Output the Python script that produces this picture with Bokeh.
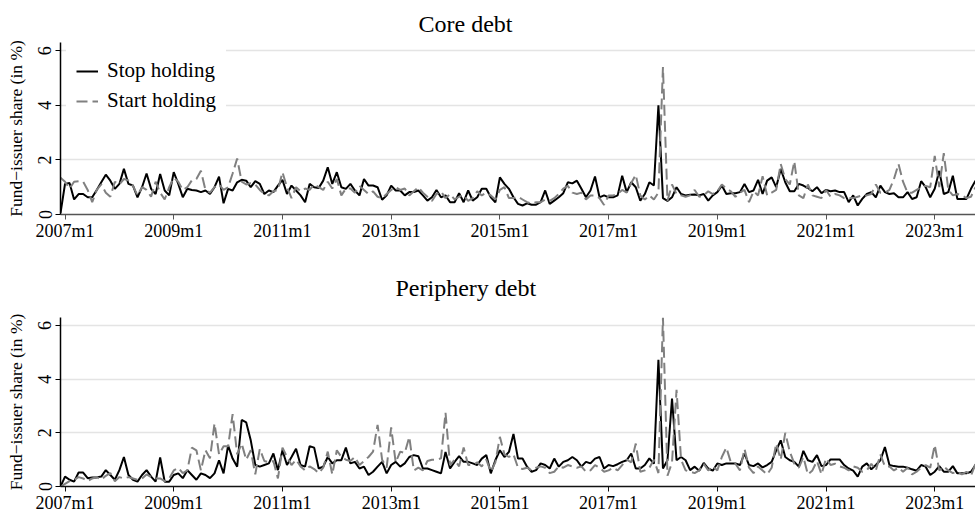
from bokeh.plotting import figure
from bokeh.layouts import column
from bokeh.models import Range1d, FixedTicker, Legend, LegendItem, ColumnDataSource
from bokeh.embed import file_html
from bokeh.resources import INLINE

# Month index 0 = 2006m12 ... 202 = 2023m10
n_months = 203

x_tick_pos = [1, 25, 49, 73, 97, 121, 145, 169, 193]
x_tick_labels = ["2007m1", "2009m1", "2011m1", "2013m1", "2015m1",
                 "2017m1", "2019m1", "2021m1", "2023m1"]
y_ticks = [0, 2, 4, 6]

core_stop = [
    0.05, 1.12, 1.15, 0.55, 0.75, 0.75, 0.63, 0.63, 0.90, 1.18,
    1.46, 1.24, 0.94, 1.12, 1.67, 1.12, 1.06, 0.63, 1.00, 1.50,
    0.94, 0.75, 1.48, 0.88, 0.70, 1.55, 1.12, 0.63, 0.94, 0.90,
    0.88, 0.82, 0.88, 0.75, 1.00, 1.39, 0.41, 0.94, 0.88, 1.18,
    1.27, 1.24, 1.00, 1.22, 1.12, 0.75, 0.88, 0.82, 1.06, 1.27,
    0.75, 1.06, 0.88, 0.70, 0.45, 1.12, 1.00, 0.97, 1.24, 1.73,
    1.12, 1.55, 1.00, 0.94, 1.12, 0.88, 0.70, 1.30, 1.06, 1.06,
    1.00, 0.54, 0.70, 1.06, 0.88, 0.88, 0.70, 0.82, 0.82, 0.88,
    0.70, 0.51, 0.63, 0.90, 0.63, 0.70, 0.45, 0.45, 0.78, 0.45,
    0.88, 0.51, 0.63, 0.94, 0.94, 0.63, 0.45, 1.36, 1.12, 0.94,
    0.63, 0.39, 0.33, 0.41, 0.36, 0.36, 0.45, 0.88, 0.39, 0.51,
    0.63, 0.78, 1.18, 1.14, 1.24, 0.94, 0.63, 0.88, 1.39, 0.63,
    0.70, 0.63, 0.63, 0.70, 1.42, 0.82, 1.18, 1.00, 0.51, 0.75,
    1.18, 1.06, 4.00, 0.60, 0.50, 0.63, 1.00, 0.75, 0.70, 0.72,
    0.73, 0.70, 0.75, 0.51, 0.70, 0.82, 1.06, 0.75, 0.78, 0.78,
    0.82, 1.12, 0.82, 0.88, 1.27, 0.75, 1.24, 1.36, 1.00, 1.67,
    1.18, 0.85, 0.85, 1.12, 1.06, 0.97, 0.85, 1.00, 0.78, 0.90,
    0.85, 0.88, 0.82, 0.82, 0.45, 0.70, 0.33, 0.57, 0.75, 0.82,
    0.63, 1.06, 0.82, 0.75, 0.78, 0.63, 0.63, 0.82, 0.57, 0.63,
    1.22, 1.00, 0.63, 0.94, 1.60, 0.75, 0.82, 1.42, 0.57, 0.57,
    0.57, 0.94, 1.24,
]

core_start = [
    1.35, 1.20, 0.95, 1.20, 1.22, 1.20, 0.90, 0.45, 0.90, 1.10,
    0.80, 0.65, 1.20, 1.10, 1.30, 1.25, 1.05, 0.70, 1.00, 0.90,
    0.65, 1.20, 0.80, 0.55, 1.00, 1.35, 1.20, 0.90, 1.00, 1.25,
    1.30, 1.60, 0.90, 0.80, 1.00, 1.10, 0.90, 1.00, 1.50, 2.05,
    1.20, 1.10, 1.15, 1.10, 0.90, 0.75, 0.70, 0.85, 0.90, 1.55,
    1.00, 0.60, 1.00, 0.85, 0.95, 0.90, 1.10, 1.00, 0.90, 1.20,
    0.95, 1.30, 0.70, 0.95, 0.95, 0.80, 1.05, 0.90, 0.75, 0.85,
    0.65, 0.60, 0.75, 0.90, 1.00, 0.90, 0.95, 0.70, 0.85, 1.00,
    0.80, 0.65, 0.50, 0.75, 0.85, 0.60, 0.75, 0.55, 0.65, 0.70,
    0.50, 0.60, 0.85, 0.70, 0.80, 0.70, 0.55, 0.90, 1.00, 0.60,
    0.60, 0.65, 0.55, 0.45, 0.40, 0.45, 0.45, 0.55, 0.50, 0.60,
    0.75, 0.95, 1.05, 0.80, 0.75, 0.80, 0.55, 0.70, 0.70, 0.60,
    0.35, 0.70, 0.70, 0.75, 0.90, 0.80, 1.15, 1.45, 0.70, 0.55,
    0.70, 0.55, 0.80, 5.40, 0.50, 1.10, 0.75, 0.70, 0.65, 0.70,
    0.90, 0.65, 0.70, 0.85, 0.75, 0.85, 1.10, 0.95, 0.85, 0.65,
    0.80, 0.90, 0.45, 0.85, 0.70, 1.40, 0.70, 0.80, 0.90, 1.85,
    1.30, 1.10, 1.95, 0.70, 0.60, 1.10, 0.70, 0.65, 0.60, 0.90,
    0.65, 0.75, 0.70, 0.60, 0.60, 0.60, 0.65, 0.70, 0.70, 0.75,
    1.10, 0.80, 0.80, 0.90, 1.30, 1.85, 1.20, 0.80, 0.80, 0.90,
    1.00, 1.05, 1.00, 2.15, 1.00, 2.25, 0.90, 0.70, 0.75, 0.70,
    0.60, 0.65, 1.00,
]

peri_stop = [
    0.00, 0.37, 0.25, 0.18, 0.52, 0.52, 0.31, 0.34, 0.34, 0.37,
    0.61, 0.43, 0.25, 0.61, 1.10, 0.43, 0.25, 0.18, 0.43, 0.61,
    0.37, 0.18, 1.08, 0.18, 0.18, 0.43, 0.49, 0.31, 0.61, 0.43,
    0.25, 0.49, 0.43, 0.31, 0.49, 0.98, 0.49, 1.53, 1.04, 0.74,
    2.48, 2.39, 1.72, 0.80, 0.74, 0.80, 0.86, 1.23, 0.61, 1.35,
    0.80, 1.10, 1.41, 0.80, 0.74, 1.50, 1.45, 0.67, 0.74, 1.10,
    0.86, 0.98, 0.98, 1.45, 0.86, 0.92, 0.67, 0.74, 0.43, 0.55,
    0.74, 0.92, 0.49, 0.80, 0.92, 0.74, 0.86, 1.10, 1.17, 1.13,
    0.67, 0.67, 0.61, 0.55, 0.49, 1.29, 0.67, 0.92, 1.13, 0.92,
    0.92, 0.86, 0.80, 1.04, 1.17, 0.49, 0.98, 1.35, 1.10, 1.29,
    1.96, 1.04, 1.04, 0.74, 0.55, 0.61, 0.86, 0.80, 0.67, 1.04,
    0.74, 0.92, 0.98, 1.10, 0.98, 0.74, 0.92, 0.86, 1.04, 1.10,
    0.67, 0.80, 0.76, 0.83, 0.92, 0.98, 1.23, 0.67, 0.67, 0.80,
    1.05, 0.85, 4.72, 0.67, 0.98, 3.28, 0.98, 1.10, 0.98, 0.61,
    0.74, 0.59, 0.88, 0.67, 0.59, 0.86, 0.80, 0.86, 0.86, 0.86,
    0.80, 1.23, 0.80, 0.76, 0.86, 0.71, 0.80, 0.92, 1.35, 1.72,
    1.10, 0.98, 0.92, 0.74, 1.33, 0.98, 0.92, 1.17, 0.76, 0.80,
    1.01, 1.01, 1.01, 0.80, 0.67, 0.59, 0.37, 0.74, 0.86, 0.64,
    0.80, 0.98, 1.47, 0.80, 0.76, 0.74, 0.74, 0.70, 0.64, 0.59,
    0.80, 0.74, 0.43, 0.55, 0.76, 0.55, 0.55, 0.76, 0.49, 0.49,
    0.49, 0.55, 0.80,
]

peri_start = [
    0.00, 0.10, 0.20, 0.25, 0.35, 0.30, 0.20, 0.30, 0.35, 0.25,
    0.40, 0.50, 0.20, 0.35, 0.30, 0.35, 0.30, 0.25, 0.30, 0.45,
    0.35, 0.30, 0.30, 0.20, 0.30, 0.60, 0.70, 0.50, 0.60, 1.45,
    1.35, 0.60, 1.35, 1.05, 2.35, 1.20, 1.50, 1.50, 2.70, 1.20,
    1.60, 1.00, 1.35, 0.45, 1.40, 0.95, 0.90, 0.95, 0.30, 1.45,
    1.10, 0.80, 1.00, 0.75, 0.60, 0.75, 0.65, 0.50, 0.70, 1.30,
    0.45, 1.35, 1.10, 1.00, 0.95, 1.10, 0.80, 0.95, 1.10, 1.30,
    2.30, 1.00, 0.70, 2.20, 0.90, 1.30, 1.25, 1.85, 0.60, 0.70,
    0.60, 0.95, 1.00, 1.00, 1.05, 2.75, 0.80, 1.00, 0.75, 1.45,
    0.80, 0.80, 0.90, 0.75, 1.00, 0.55, 0.90, 1.85, 1.20, 1.10,
    1.20, 0.70, 0.65, 0.70, 0.60, 0.70, 0.75, 0.70, 0.50, 0.55,
    0.75, 0.70, 0.80, 0.75, 0.70, 0.75, 0.55, 0.60, 0.80, 0.70,
    0.55, 0.60, 0.70, 0.60, 0.80, 1.00, 0.90, 1.60, 0.55, 0.60,
    0.70, 1.00, 0.50, 6.30, 0.40, 0.90, 3.60, 1.00, 0.60, 0.55,
    0.50, 0.60, 0.85, 0.60, 0.75, 0.60, 1.10, 1.45, 0.90, 0.85,
    0.60, 1.40, 0.70, 0.50, 0.75, 0.60, 0.45, 0.70, 1.60, 1.00,
    2.00, 1.30, 0.85, 0.70, 1.10, 0.45, 0.60, 0.95, 0.45, 1.05,
    0.80, 0.85, 0.75, 0.70, 0.60, 0.75, 0.70, 0.55, 0.60, 0.85,
    0.60, 1.20, 0.75, 0.75, 0.60, 0.70, 0.55, 0.70, 0.45, 0.55,
    0.70, 0.80, 0.70, 1.55, 0.60, 0.75, 0.60, 0.50, 0.55, 0.45,
    0.55, 0.40, 0.85,
]

months = list(range(n_months))
FONT = "Liberation Serif"


def make_panel(title, stop, start, height, top_border, bottom_border,
               title_standoff, title_offset, axis_color, with_legend):
    src = ColumnDataSource(dict(m=months, stop=stop, start=start))
    p = figure(width=975, height=height, output_backend="svg", toolbar_location=None,
               x_range=Range1d(0, n_months - 1), y_range=Range1d(0, 6.3),
               min_border_left=60, min_border_right=0,
               min_border_top=top_border, min_border_bottom=bottom_border)
    p.title.text = title
    p.title.align = "left"
    p.title.offset = title_offset
    p.title.text_font = FONT
    p.title.text_font_size = "24px"
    p.title.text_font_style = "normal"
    p.title.text_color = "black"
    p.title.standoff = title_standoff
    p.outline_line_color = None
    p.background_fill_color = "white"
    p.border_fill_color = "white"

    r_stop = p.line("m", "stop", source=src, line_color="black", line_width=2)
    r_start = p.line("m", "start", source=src, line_color="#808080", line_width=2,
                     line_dash="11 5")

    p.xgrid.visible = False
    p.ygrid.grid_line_color = "#e4e4e4"
    p.ygrid.grid_line_width = 1.5
    p.ygrid.ticker = FixedTicker(ticks=y_ticks)

    p.xaxis.ticker = FixedTicker(ticks=x_tick_pos)
    p.xaxis.major_label_overrides = {k: v for k, v in zip(x_tick_pos, x_tick_labels)}
    p.xaxis.minor_tick_line_color = None
    p.xaxis.major_tick_out = 5
    p.xaxis.major_tick_in = 0
    p.xaxis.major_label_standoff = 1
    p.xaxis.major_label_text_font = FONT
    p.xaxis.major_label_text_font_size = "18px"
    p.xaxis.major_label_text_color = "black"
    p.xaxis.axis_line_color = axis_color
    p.xaxis.axis_line_width = 1.5
    p.xaxis.major_tick_line_color = axis_color

    p.yaxis.ticker = FixedTicker(ticks=y_ticks)
    p.yaxis.minor_tick_line_color = None
    p.yaxis.major_tick_out = 5
    p.yaxis.major_tick_in = 0
    p.yaxis.major_label_orientation = "vertical"
    p.yaxis.major_label_standoff = 4
    p.yaxis.major_label_text_font = FONT
    p.yaxis.major_label_text_font_size = "18px"
    p.yaxis.major_label_text_color = "black"
    p.yaxis.axis_label = "Fund\u2212issuer share (in %)"
    p.yaxis.axis_label_text_font = FONT
    p.yaxis.axis_label_text_font_size = "17.5px"
    p.yaxis.axis_label_text_font_style = "normal"
    p.yaxis.axis_label_text_color = "black"
    p.yaxis.axis_label_standoff = 10
    p.yaxis.axis_line_color = "black"
    p.yaxis.axis_line_width = 1.5
    p.yaxis.major_tick_line_color = "black"

    if with_legend:
        legend = Legend(items=[LegendItem(label="Stop holding", renderers=[r_stop]),
                               LegendItem(label="Start holding", renderers=[r_start])],
                        location="top_left")
        legend.label_text_font = FONT
        legend.label_text_font_size = "21px"
        legend.label_text_color = "black"
        legend.border_line_color = "white"
        legend.border_line_width = 1
        legend.background_fill_color = "white"
        legend.background_fill_alpha = 1.0
        legend.glyph_width = 22
        legend.label_standoff = 9
        legend.spacing = 5
        legend.padding = 9
        legend.margin = 6
        p.add_layout(legend, "center")
    return p


p1 = make_panel("Core debt", core_stop, core_start, 256, 42, 42, 12, 358, "#555555", True)
p2 = make_panel("Periphery debt", peri_stop, peri_start, 259, 61, 27, 33, 335, "#111111", False)

layout = column(p1, p2, spacing=0)
open("out.html", "w").write(file_html(layout, INLINE))
